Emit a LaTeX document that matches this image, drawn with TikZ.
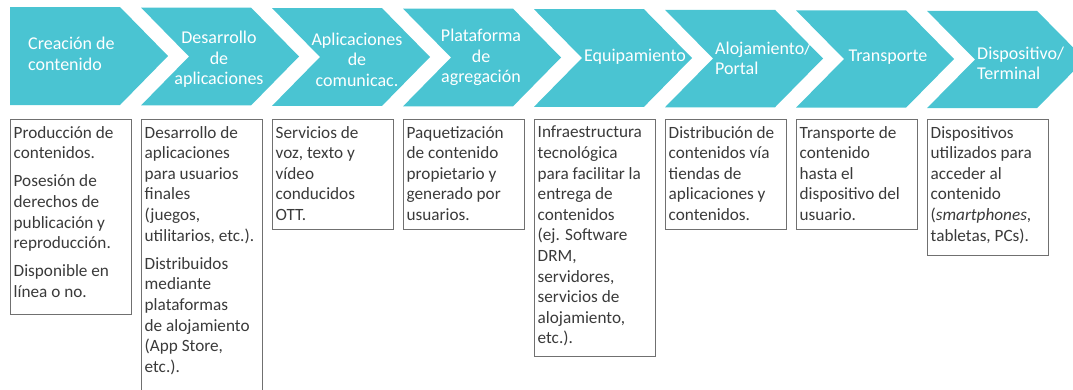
\documentclass[tikz,border=0pt]{standalone}
\usepackage{fontspec}
\setmainfont{Carlito}
\definecolor{chev}{HTML}{4AC4D2}
\definecolor{boxtxt}{HTML}{3A3A3A}
\definecolor{boxline}{HTML}{707070}
\begin{document}
\begin{tikzpicture}[x=1pt,y=-1pt,
  chevtext/.style={text=white, font=\fontsize{18}{20.5}\selectfont, inner sep=0pt, align=center},
  chevleft/.style={chevtext, anchor=west, align=left},
  boxtext/.style={text=boxtxt, font=\fontsize{17.2}{20.6}\selectfont, inner sep=0pt, align=left, anchor=north west},
  infobox/.style={draw=boxline, line width=0.9pt, inner sep=0pt, anchor=north west, minimum width=121pt}]
\useasboundingbox (0,0) rectangle (1073,389);
\clip (0,0) rectangle (1073,389);
% chevrons
\fill[chev] (10,7) -- (120,7) -- (168,56) -- (120,105) -- (10,105) -- cycle;
\foreach \i in {1,...,7}{
  \pgfmathsetmacro\L{10+131*\i}
  \pgfmathsetmacro\R{\L+110}
  \pgfmathsetmacro\T{7+0.55*\i}
  \pgfmathsetmacro\B{105+0.45*\i}
  \pgfmathsetmacro\M{(\T+\B)/2}
  \fill[chev] (\L,\T) -- (\R,\T) -- (\R+48,\M) -- (\R,\B) -- (\L,\B) -- (\L+48,\M) -- cycle;
}
% chevron texts
\node[chevleft] (c1) at (28,54) {Creación de\\contenido};
\node[chevtext] (c2) at (219,59.5) {Desarrollo\\de\\aplicaciones};
\node[chevtext] (c3) at (357,59.5) {Aplicaciones\\de\\comunicac.};
\node[chevtext] (c4) at (481,57.5) {Plataforma\\de\\agregación};
\node[chevtext] (c5) at (635,56.5) {Equipamiento};
\node[chevleft] (c6) at (715,58.5) {Alojamiento/\\Portal};
\node[chevtext] (c7) at (888,57.5) {Transporte};
\node[chevleft] (c8) at (977,63.5) {Dispositivo/\\Terminal};
% boxes
\node[infobox, minimum height=195pt] (b1) at (10,119) {};
\draw[boxline, line width=0.9pt] (141,395) coordinate (b2a) -- (141,119) -- (262,119) -- (262,395) coordinate (b2b);
\node[infobox, minimum height=110pt] (b3) at (272,119) {};
\node[infobox, minimum height=110pt] (b4) at (403,119) {};
\node[infobox, minimum height=237pt] (b5) at (534,119) {};
\node[infobox, minimum height=110pt] (b6) at (665,119) {};
\node[infobox, minimum height=110pt] (b7) at (796,119) {};
\node[infobox, minimum height=136pt] (b8) at (927,119) {};
% box texts
\node[boxtext] (t1) at (13.5,126) {Producción de\\contenidos.\\[7.5pt]Posesión de\\derechos de\\publicación y\\reproducción.\\[7.5pt]Disponible en\\línea o no.};
\node[boxtext] (t2) at (144.5,126) {Desarrollo de\\aplicaciones\\para usuarios\\finales\\(juegos,\\utilitarios, etc.).\\[7.5pt]Distribuidos\\mediante\\plataformas\\de alojamiento\\(App Store,\\etc.).};
\node[boxtext] (t3) at (275.5,126) {Servicios de\\voz, texto y\\vídeo\\conducidos\\OTT.};
\node[boxtext] (t4) at (406.5,126) {Paquetización\\de contenido\\propietario y\\generado por\\usuarios.};
\node[boxtext] (t5) at (537.5,126) {Infraestructura\\tecnológica\\para facilitar la\\entrega de\\contenidos\\(ej. Software\\DRM,\\servidores,\\servicios de\\alojamiento,\\etc.).};
\node[boxtext] (t6) at (668.5,126) {Distribución de\\contenidos vía\\tiendas de\\aplicaciones y\\contenidos.};
\node[boxtext] (t7) at (799.5,126) {Transporte de\\contenido\\hasta el\\dispositivo del\\usuario.};
\node[boxtext] (t8) at (930.5,126) {Dispositivos\\utilizados para\\acceder al\\contenido\\(\textit{smartphones},\\tabletas, PCs).};
\end{tikzpicture}
\end{document}
